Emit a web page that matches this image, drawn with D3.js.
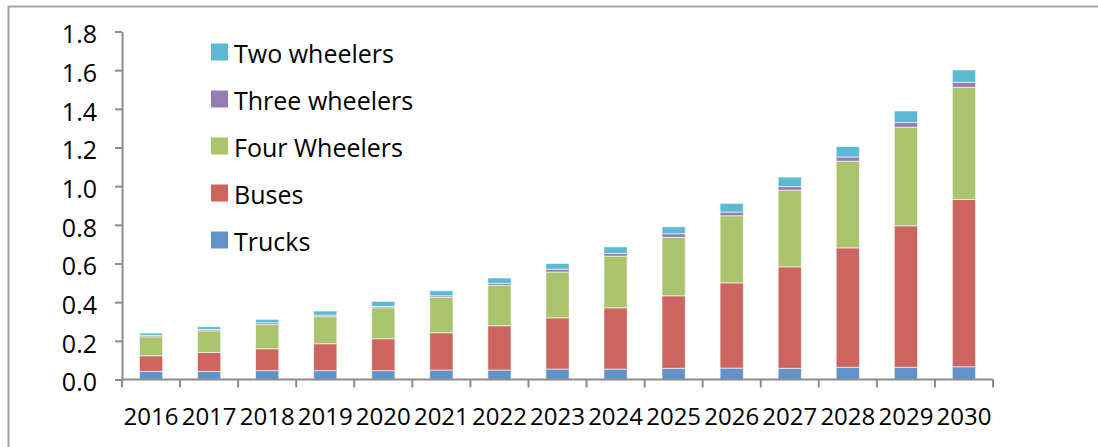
<!DOCTYPE html>
<html>
<head>
<meta charset="utf-8">
<script src="https://cdn.jsdelivr.net/npm/d3@7"></script>
<style>
  html, body { margin: 0; padding: 0; background: #fff; }
  svg { display: block; }
  text { font-family: "Open Sans", Lato, sans-serif; fill: #000; }
</style>
</head>
<body>
<svg id="chart" width="1098" height="447"></svg>
<script>
const years = ["2016","2017","2018","2019","2020","2021","2022","2023","2024","2025","2026","2027","2028","2029","2030"];
const trucks = [0.042,0.042,0.046,0.046,0.046,0.049,0.049,0.054,0.054,0.058,0.059,0.058,0.063,0.063,0.066];
const buses = [0.081,0.098,0.113,0.139,0.165,0.193,0.229,0.265,0.317,0.375,0.441,0.525,0.618,0.732,0.865];
const fourWheelers = [0.098,0.112,0.126,0.140,0.160,0.183,0.209,0.237,0.267,0.302,0.347,0.396,0.448,0.510,0.580];
const threeWheelers = [0.007,0.007,0.009,0.008,0.007,0.008,0.010,0.015,0.014,0.019,0.019,0.019,0.022,0.024,0.026];
const twoWheelers = [0.012,0.014,0.017,0.021,0.026,0.026,0.028,0.029,0.034,0.036,0.045,0.049,0.054,0.060,0.064];
const seriesNames = ["Trucks","Buses","Four Wheelers","Three wheelers","Two wheelers"];
const seriesColors = ["#6193C8","#CC6560","#A9C46D","#967BB5","#5BB9D1"];
const yTicks = [0,0.2,0.4,0.6,0.8,1.0,1.2,1.4,1.6,1.8];

const seriesValues = [trucks, buses, fourWheelers, threeWheelers, twoWheelers];
const table = years.map((yr, i) => {
  const row = { year: yr };
  seriesNames.forEach((n, k) => row[n] = seriesValues[k][i]);
  return row;
});

const svg = d3.select("#chart");

// outer frame (left and top edges visible)
svg.append("path")
  .attr("d", "M8.5,447 L8.5,6.5 L1098,6.5")
  .attr("fill", "none").attr("stroke", "#a6a6a6").attr("stroke-width", 2);

const plotLeft = 122, plotRight = 993, plotTop = 31.5, plotBottom = 379.5;

const x = d3.scaleBand().domain(years).range([plotLeft, plotRight]).paddingInner(0.6).paddingOuter(0.3);
const y = d3.scaleLinear().domain([0, 1.8]).range([plotBottom, plotTop]);

const stacked = d3.stack().keys(seriesNames)(table);

svg.append("g").selectAll("g")
  .data(stacked).join("g")
  .attr("fill", (d, i) => seriesColors[i])
  .selectAll("rect")
  .data(d => d).join("rect")
  .attr("x", d => x(d.data.year))
  .attr("width", x.bandwidth())
  .attr("y", d => y(d[1]))
  .attr("height", d => y(d[0]) - y(d[1]))
  .attr("stroke", "rgba(255,255,255,0.6)")
  .attr("stroke-width", 1);

// y axis
const yAxis = svg.append("g")
  .attr("transform", `translate(${plotLeft},0)`)
  .call(d3.axisLeft(y).tickValues(yTicks).tickFormat(d3.format(".1f")).tickSize(7).tickSizeOuter(0).tickPadding(18));
yAxis.select(".domain").attr("stroke", "#8c8c8c").attr("stroke-width", 2);
yAxis.selectAll(".tick line").attr("stroke", "#8c8c8c").attr("stroke-width", 2);
yAxis.selectAll("text").style("font-size", "25px").attr("dy", "0.45em");

// x axis
const xAxis = svg.append("g")
  .attr("transform", `translate(0,${plotBottom})`)
  .call(d3.axisBottom(x).tickSize(0).tickPadding(28));
xAxis.select(".domain").attr("stroke", "#8c8c8c").attr("stroke-width", 2)
  .attr("d", `M${plotLeft},0H${plotRight}`);
xAxis.selectAll("text").style("font-size", "24px");
// category boundary ticks
const bounds = d3.range(years.length + 1).map(i => plotLeft + i * (plotRight - plotLeft) / years.length);
xAxis.selectAll(".bound").data(bounds).join("line")
  .attr("class", "bound")
  .attr("x1", d => d).attr("x2", d => d)
  .attr("y1", 0).attr("y2", 8)
  .attr("stroke", "#8c8c8c").attr("stroke-width", 2);

// legend
const legendOrder = ["Two wheelers","Three wheelers","Four Wheelers","Buses","Trucks"];
const legend = svg.append("g");
legendOrder.forEach((name, i) => {
  const cy = 52 + i * 47;
  const k = seriesNames.indexOf(name);
  legend.append("rect")
    .attr("x", 211).attr("y", cy - 8.5).attr("width", 17).attr("height", 17)
    .attr("fill", seriesColors[k]);
  legend.append("text")
    .attr("x", 234).attr("y", cy + 11)
    .style("font-size", "25px")
    .text(name);
});
</script>
</body>
</html>
